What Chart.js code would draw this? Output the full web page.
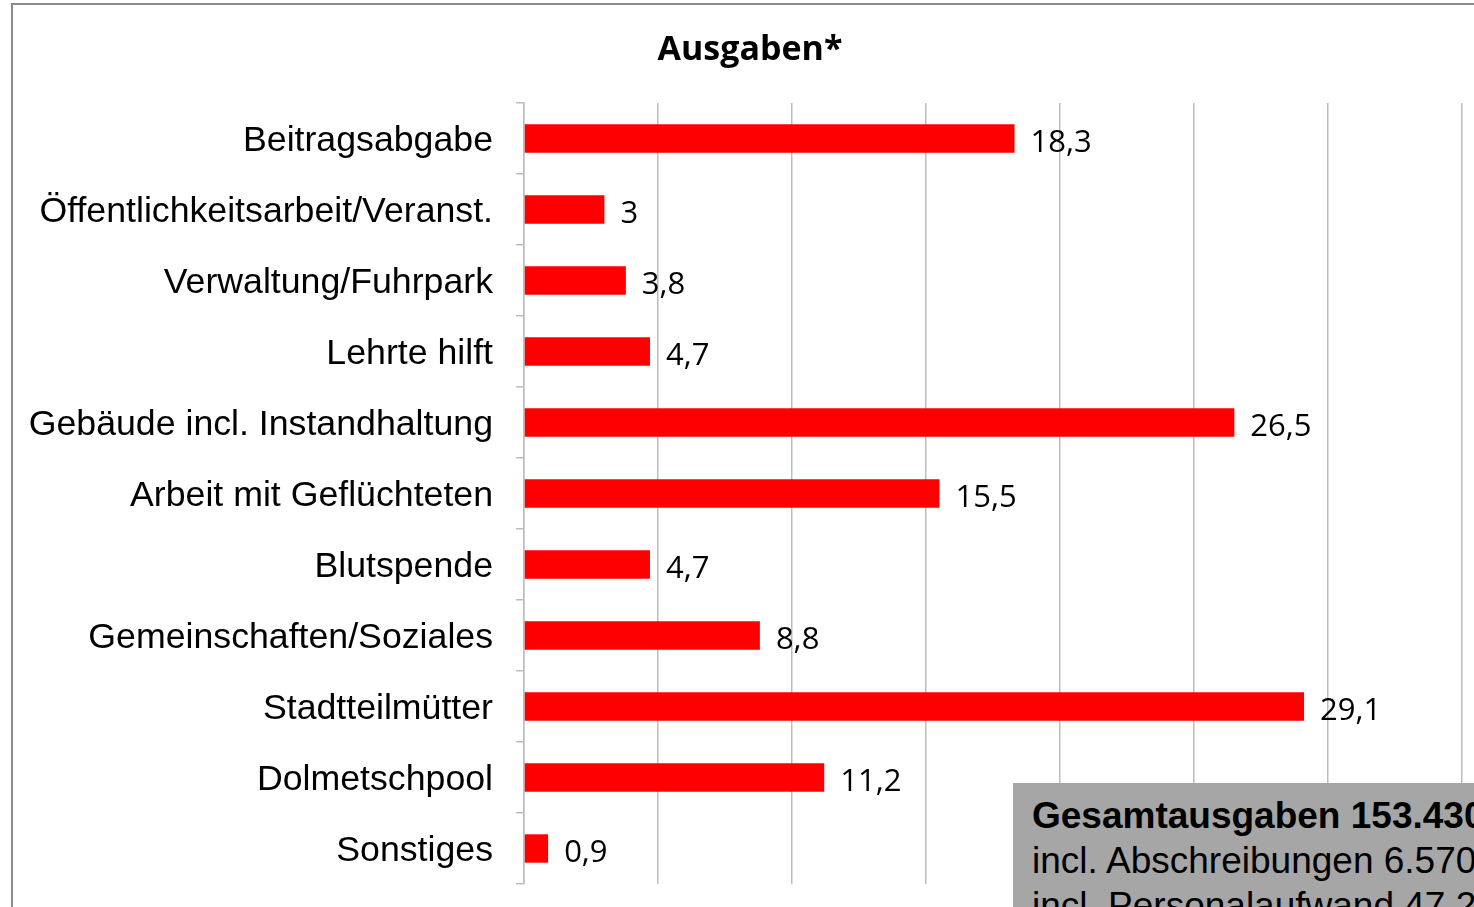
<!DOCTYPE html>
<html lang="de">
<head>
<meta charset="utf-8">
<title>Ausgaben</title>
<script src="https://cdn.jsdelivr.net/npm/chart.js@4"></script>
<style>
    html, body { margin: 0; padding: 0; background: #fff; overflow: hidden; width: 1474px; height: 907px; }
    #frame { position: absolute; left: 11px; top: 3px; width: 2000px; height: 2000px; border: 2px solid #8a8a8a; }
    #wrap { position: absolute; left: 0; top: 0; width: 1500px; height: 907px; }
    #summary {
        position: absolute; left: 1013px; top: 783px; width: 700px; height: 200px;
        background: #a6a6a6; box-sizing: border-box; padding: 10px 0 0 19px;
        font-family: "Liberation Sans", Arial, sans-serif; font-size: 37px; line-height: 45px;
        color: #000; white-space: nowrap;
    }
    #summary b { font-weight: bold; }
</style>
</head>
<body>
<div id="frame"></div>
<div id="wrap"><canvas id="ausgabenChart" width="1500" height="907"></canvas></div>
<div id="summary">
    <b>Gesamtausgaben 153.430 €</b><br>
    incl. Abschreibungen 6.570 €<br>
    incl. Personalaufwand 47.2
</div>
<script>
// Kategorien und Werte (in Tausend Euro)
const categories = [
    'Beitragsabgabe',
    'Öffentlichkeitsarbeit/Veranst.',
    'Verwaltung/Fuhrpark',
    'Lehrte hilft',
    'Gebäude incl. Instandhaltung',
    'Arbeit mit Geflüchteten',
    'Blutspende',
    'Gemeinschaften/Soziales',
    'Stadtteilmütter',
    'Dolmetschpool',
    'Sonstiges'
];
const values = [18.3, 3, 3.8, 4.7, 26.5, 15.5, 4.7, 8.8, 29.1, 11.2, 0.9];

// Draw value labels next to each bar
const valueLabels = {
    id: 'valueLabels',
    afterDatasetsDraw(chart) {
        const ctx = chart.ctx;
        const meta = chart.getDatasetMeta(0);
        ctx.save();
        ctx.font = '31px "Open Sans", sans-serif';
        ctx.fillStyle = '#000';
        ctx.textAlign = 'left';
        ctx.textBaseline = 'middle';
        meta.data.forEach((bar, i) => {
            const text = String(values[i]).replace('.', ',');
            ctx.fillText(text, bar.x + 16, bar.y + 5);
        });
        ctx.restore();
    }
};

const ctx = document.getElementById('ausgabenChart').getContext('2d');
new Chart(ctx, {
    type: 'bar',
    data: {
        labels: categories,
        datasets: [{
            data: values,
            backgroundColor: '#ff0000',
            borderWidth: 0,
            barPercentage: 0.4,
            categoryPercentage: 1
        }]
    },
    options: {
        indexAxis: 'y',
        responsive: false,
        animation: false,
        layout: { padding: { left: 11, right: 11, top: 0, bottom: 23 } },
        plugins: {
            legend: { display: false },
            tooltip: { enabled: false },
            title: {
                display: true,
                text: 'Ausgaben*',
                color: '#000',
                font: { family: '"Open Sans", sans-serif', size: 34, weight: 'bold', lineHeight: 1.2 },
                padding: { top: 30, bottom: 32.2 }
            }
        },
        scales: {
            x: {
                min: 0,
                max: 36,
                ticks: { display: false, stepSize: 5 },
                border: { display: false },
                grid: { color: '#bdbdbd', lineWidth: 1.5, drawTicks: false }
            },
            y: {
                afterFit(scale) {
                    scale.width = 513;
                    scale.paddingTop = 0;
                    scale.paddingBottom = 0;
                },
                border: { display: true, color: '#bdbdbd', width: 1.5 },
                grid: { drawOnChartArea: false, drawTicks: true, tickLength: 8, color: '#bdbdbd', lineWidth: 1.5 },
                ticks: {
                    color: '#000',
                    padding: 23,
                    labelOffset: 3,
                    font: { family: '"Liberation Sans", Arial, sans-serif', size: 35.7 }
                }
            }
        }
    },
    plugins: [valueLabels]
});
</script>
</body>
</html>
